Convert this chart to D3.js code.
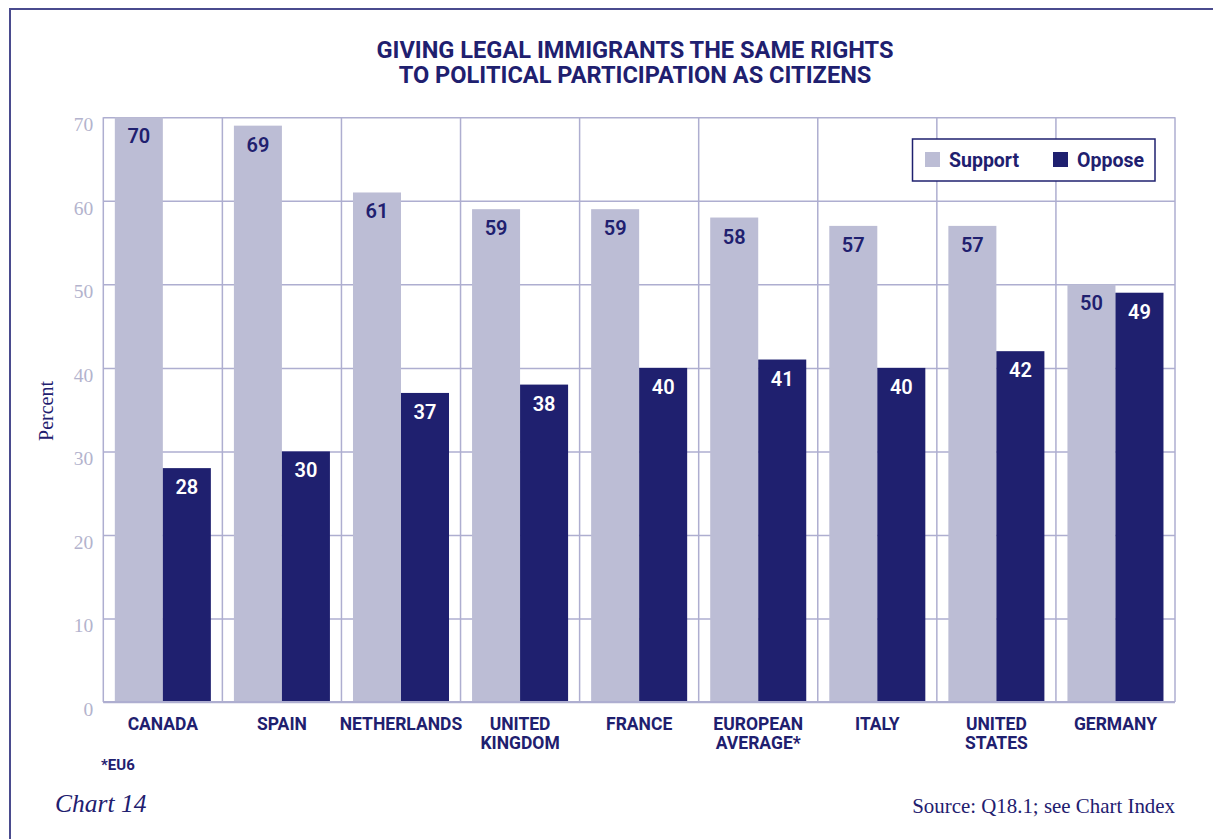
<!DOCTYPE html>
<html>
<head>
<meta charset="utf-8">
<script src="https://cdn.jsdelivr.net/npm/d3@7/dist/d3.min.js"></script>
<style>
  html, body { margin: 0; padding: 0; background: #ffffff; }
  svg { display: block; }
</style>
</head>
<body>
<svg id="chart" width="1213" height="839"></svg>
<script>
const categories = [
  ["CANADA"], ["SPAIN"], ["NETHERLANDS"], ["UNITED", "KINGDOM"], ["FRANCE"],
  ["EUROPEAN", "AVERAGE*"], ["ITALY"], ["UNITED", "STATES"], ["GERMANY"]
];
const seriesNames = ["Support", "Oppose"];
const supportValues = [70, 69, 61, 59, 59, 58, 57, 57, 50];
const opposeValues  = [28, 30, 37, 38, 40, 41, 40, 42, 49];
const yTicks = [0, 10, 20, 30, 40, 50, 60, 70];
const titleLines = ["GIVING LEGAL IMMIGRANTS THE SAME RIGHTS", "TO POLITICAL PARTICIPATION AS CITIZENS"];
const yLabel = "Percent";
const footnote = "*EU6";
const chartLabel = "Chart 14";
const sourceText = "Source: Q18.1; see Chart Index";

const NAVY = "#1f206f";
const LIGHT = "#bcbdd5";
const GRID = "#aeaed0";
const TICK = "#b3b3cd";
const SANS = "Roboto, 'Liberation Sans', Arial, sans-serif";
const SERIF = "'Liberation Serif', 'DejaVu Serif', 'Times New Roman', serif";

const svg = d3.select("#chart");
const pLeft = 103.3, pRight = 1175, pTop = 117.3, pBottom = 702;

const keys = categories.map(c => c.join(" "));
const x = d3.scaleBand().domain(keys).range([pLeft, pRight]).paddingInner(0).paddingOuter(0);
const xs = d3.scaleBand().domain(seriesNames).range([0, x.bandwidth()]).paddingInner(0).paddingOuter(0.24);
const y = d3.scaleLinear().domain([0, 70]).range([pBottom, pTop]);
const color = d3.scaleOrdinal().domain(seriesNames).range([LIGHT, NAVY]);

// outer frame
svg.append("rect")
  .attr("x", 10).attr("y", 9).attr("width", 1400).attr("height", 1000)
  .attr("fill", "none").attr("stroke", "#4a4b8e").attr("stroke-width", 2);

// title
svg.append("g").selectAll("text").data(titleLines).join("text")
  .attr("x", 635).attr("y", (d, i) => 57.5 + i * 25.7)
  .attr("text-anchor", "middle")
  .attr("font-family", SANS).attr("font-weight", 700).attr("font-size", 23.6)
  .attr("fill", NAVY).text(d => d);

// horizontal gridlines
const gy = svg.append("g").attr("transform", `translate(${pLeft},0)`)
  .call(d3.axisLeft(y).tickValues(yTicks).tickSize(-(pRight - pLeft)).tickFormat(""));
gy.select(".domain").remove();
gy.selectAll(".tick line").attr("stroke", GRID).attr("stroke-width", 1.5);

// vertical gridlines at band boundaries
const bounds = keys.map(k => x(k)).concat([pRight]);
svg.append("g").selectAll("line").data(bounds).join("line")
  .attr("x1", d => d).attr("x2", d => d).attr("y1", pTop).attr("y2", pBottom)
  .attr("stroke", GRID).attr("stroke-width", 1.5);

// y tick labels
const ya = svg.append("g").attr("transform", `translate(${pLeft},0)`)
  .call(d3.axisLeft(y).tickValues(yTicks).tickSize(0).tickPadding(10));
ya.select(".domain").remove();
ya.selectAll(".tick text")
  .attr("font-family", SERIF).attr("font-size", 19.5).attr("fill", TICK)
  .attr("dy", "13.5px");

// bars
const rows = keys.map((k, i) => ({ key: k, values: [supportValues[i], opposeValues[i]] }));
const groups = svg.append("g").selectAll("g").data(rows).join("g")
  .attr("transform", d => `translate(${x(d.key)},0)`);
groups.selectAll("rect").data(d => d.values.map((v, j) => ({ s: seriesNames[j], v })))
  .join("rect")
  .attr("x", d => xs(d.s)).attr("width", xs.bandwidth())
  .attr("y", d => y(d.v)).attr("height", d => y(0) - y(d.v))
  .attr("fill", d => color(d.s));
groups.selectAll("text").data(d => d.values.map((v, j) => ({ s: seriesNames[j], v })))
  .join("text")
  .attr("x", d => xs(d.s) + xs.bandwidth() / 2)
  .attr("y", d => y(d.v) + 26)
  .attr("text-anchor", "middle")
  .attr("font-family", SANS).attr("font-weight", 600).attr("font-size", 20)
  .attr("fill", d => d.s === "Support" ? NAVY : "#ffffff")
  .text(d => d.v);

// bottom axis line
svg.append("line").attr("x1", pLeft).attr("x2", pRight).attr("y1", pBottom).attr("y2", pBottom)
  .attr("stroke", GRID).attr("stroke-width", 2);

// category labels
const cat = svg.append("g").selectAll("text").data(categories).join("text")
  .attr("text-anchor", "middle")
  .attr("font-family", SANS).attr("font-weight", 700).attr("font-size", 17.5)
  .attr("fill", NAVY)
  .attr("transform", (d, i) => `translate(${x(keys[i]) + x.bandwidth() / 2},729.5)`);
cat.selectAll("tspan").data(d => d).join("tspan")
  .attr("x", 0).attr("y", (d, i) => i * 19.5).text(d => d);

// y label
svg.append("text")
  .attr("transform", "translate(53,411) rotate(-90)")
  .attr("text-anchor", "middle")
  .attr("font-family", SERIF).attr("font-size", 20).attr("fill", NAVY)
  .text(yLabel);

// legend
const lg = svg.append("g");
lg.append("rect").attr("x", 912.5).attr("y", 139).attr("width", 242.5).attr("height", 42)
  .attr("fill", "#ffffff").attr("stroke", NAVY).attr("stroke-width", 1.5);
const legendX = [925, 1053];
const li = lg.selectAll("g.item").data(seriesNames).join("g").attr("class", "item")
  .attr("transform", (d, i) => `translate(${legendX[i]},152)`);
li.append("rect").attr("width", 15).attr("height", 15).attr("fill", d => color(d));
li.append("text").attr("x", 24).attr("y", 14.7)
  .attr("font-family", SANS).attr("font-weight", 700).attr("font-size", 19.5)
  .attr("fill", NAVY).text(d => d);

// footnote, chart label, source
svg.append("text").attr("x", 101).attr("y", 770)
  .attr("font-family", SANS).attr("font-weight", 700).attr("font-size", 15)
  .attr("fill", NAVY).text(footnote);
svg.append("text").attr("x", 55).attr("y", 811.5)
  .attr("font-family", SERIF).attr("font-style", "italic").attr("font-size", 25.5)
  .attr("fill", NAVY).text(chartLabel);
svg.append("text").attr("x", 1175).attr("y", 813.3).attr("text-anchor", "end")
  .attr("font-family", SERIF).attr("font-size", 20.9)
  .attr("fill", NAVY).text(sourceText);
</script>
</body>
</html>
